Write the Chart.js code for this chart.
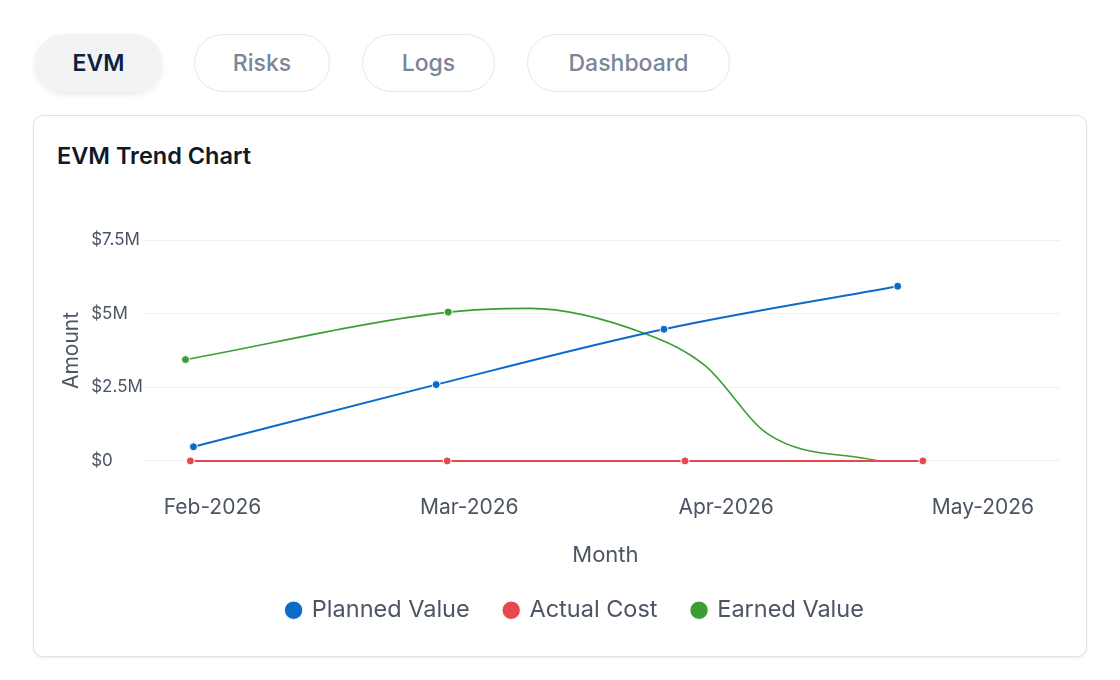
<!DOCTYPE html>
<html>
<head>
<meta charset="utf-8">
<script src="https://cdn.jsdelivr.net/npm/chart.js@4.4.1/dist/chart.umd.min.js"></script>
<style>
  html, body { margin: 0; padding: 0; background: #fff; }
  body { width: 1120px; height: 680px; position: relative; font-family: Inter, "Noto Sans", sans-serif; overflow: hidden; }
  .tabs { position: absolute; left: 35px; top: 34px; display: flex; gap: 32px; }
  .tab { height: 58px; box-sizing: border-box; border-radius: 30px; border: 1px solid #e5e7eb; background: #fff;
         display: flex; align-items: center; justify-content: center; font-size: 23px; color: #7b8597; font-weight: 500; }
  .tab.active { background: #f2f3f5; border-color: #f2f3f5; color: #0f1f3d; font-weight: 600;
                box-shadow: 0 3px 6px rgba(0,0,0,0.08); }
  .card { position: absolute; left: 33px; top: 115px; width: 1054px; height: 542px; box-sizing: border-box;
          border: 1px solid #dfe2e7; border-radius: 10px; box-shadow: 0 1px 3px rgba(0,0,0,0.08); background: #fff; }
  .card h3 { position: absolute; left: 23px; top: 25px; margin: 0; font-size: 23.5px; font-weight: 600; color: #111827; }
  #wrap { position: absolute; left: 45px; top: 185px; width: 1047px; height: 460px; }
</style>
</head>
<body>
<div class="tabs">
  <div class="tab active" style="width:127px">EVM</div>
  <div class="tab" style="width:136px">Risks</div>
  <div class="tab" style="width:133px">Logs</div>
  <div class="tab" style="width:203px">Dashboard</div>
</div>
<div class="card"><h3>EVM Trend Chart</h3></div>
<div id="wrap"><canvas id="grafico"></canvas></div>

<script>
// months on the x axis (0 = Feb-2026)
const meses = ["Feb-2026", "Mar-2026", "Apr-2026", "May-2026"];

// x positions in month units, values in $M
const pvX = [-0.074, 0.871, 1.758, 2.668];
const pvY = [0.48, 2.59, 4.47, 5.93];
const acX = [-0.086, 0.914, 1.84, 2.766];
const acY = [0, 0, 0, 0];
const evX = [-0.105, 0.918, 1.235, 1.691, 1.917, 2.162, 2.59];
const evY = [3.44, 5.05, 5.18, 4.30, 3.24, 0.92, 0];
const evDots = [4, 4, 0, 0, 0, 0, 0];

const yTicks = [0, 2.5, 5, 7.5];

const pts = (xs, ys) => xs.map((x, i) => ({ x: x, y: ys[i] }));

const cinza = "#4b5563";
const fonte = "Inter";

new Chart(document.getElementById("grafico").getContext("2d"), {
    type: "line",
    data: {
        datasets: [
            {
                label: "Planned Value",
                data: pts(pvX, pvY),
                yAxisID: "y",
                borderColor: "#0b6bc6",
                backgroundColor: "#0b6bc6",
                borderWidth: 2,
                pointRadius: 4,
                pointBorderColor: "#fff",
                pointBorderWidth: 1,
                cubicInterpolationMode: "monotone",
                clip: 8,
            },
            {
                label: "Actual Cost",
                data: pts(acX, acY),
                yAxisID: "y",
                borderColor: "#e5484d",
                backgroundColor: "#e5484d",
                borderWidth: 2,
                pointRadius: 4,
                pointBorderColor: "#fff",
                pointBorderWidth: 1,
                clip: 8,
            },
            {
                label: "Earned Value",
                data: pts(evX, evY),
                yAxisID: "y",
                borderColor: "#3b9e35",
                backgroundColor: "#3b9e35",
                borderWidth: 1.6,
                pointRadius: evDots,
                pointBorderColor: "#fff",
                pointBorderWidth: 1,
                cubicInterpolationMode: "monotone",
                clip: 8,
            },
        ],
    },
    options: {
        responsive: true,
        maintainAspectRatio: false,
        animation: false,
        layout: { padding: { top: 55, right: 0, left: 14, bottom: 13 } },
        plugins: {
            legend: {
                position: "bottom",
                labels: {
                    usePointStyle: true,
                    pointStyle: "circle",
                    boxWidth: 13,
                    boxHeight: 13,
                    padding: 35,
                    color: cinza,
                    font: { family: fonte, size: 23.5 },
                },
            },
            tooltip: { enabled: false },
        },
        scales: {
            x: {
                type: "linear",
                min: -0.24,
                max: 3.3,
                grid: { display: false },
                border: { display: false },
                afterBuildTicks: (axis) => { axis.ticks = meses.map((m, i) => ({ value: i })); },
                ticks: {
                    padding: 26,
                    color: cinza,
                    font: { family: fonte, size: 21 },
                    callback: (v) => meses[v] || "",
                },
                title: { display: true, text: "Month", color: cinza, font: { family: fonte, size: 22 }, padding: { top: -4, bottom: -5 } },
            },
            y: {
                position: "left",
                weight: 0,
                min: 0,
                max: 7.5,
                grid: { color: "#f0f1f3", tickLength: 8 },
                border: { display: false },
                afterBuildTicks: (axis) => { axis.ticks = yTicks.map(v => ({ value: v })); },
                ticks: {
                    padding: 0,
                    color: cinza,
                    crossAlign: "far",
                    font: { family: fonte, size: 17 },
                    callback: (v) => v === 0 ? "$0" : "$" + v + "M",
                },
            },
            // só para o título "Amount", à esquerda dos rótulos
            yTitulo: {
                position: "left",
                weight: 1,
                grid: { display: false, drawTicks: false },
                border: { display: false },
                ticks: { display: false },
                title: { display: true, text: "Amount", color: cinza, font: { family: fonte, size: 21 }, padding: { top: 0, bottom: 7 } },
            },
            // espaço vazio à direita (a legenda fica um pouco deslocada no original)
            yVazio: {
                position: "right",
                grid: { display: false, drawTicks: false },
                border: { display: false },
                ticks: { display: false },
                afterFit: (s) => { s.width = 32; },
            },
        },
    },
});
</script>
</body>
</html>
